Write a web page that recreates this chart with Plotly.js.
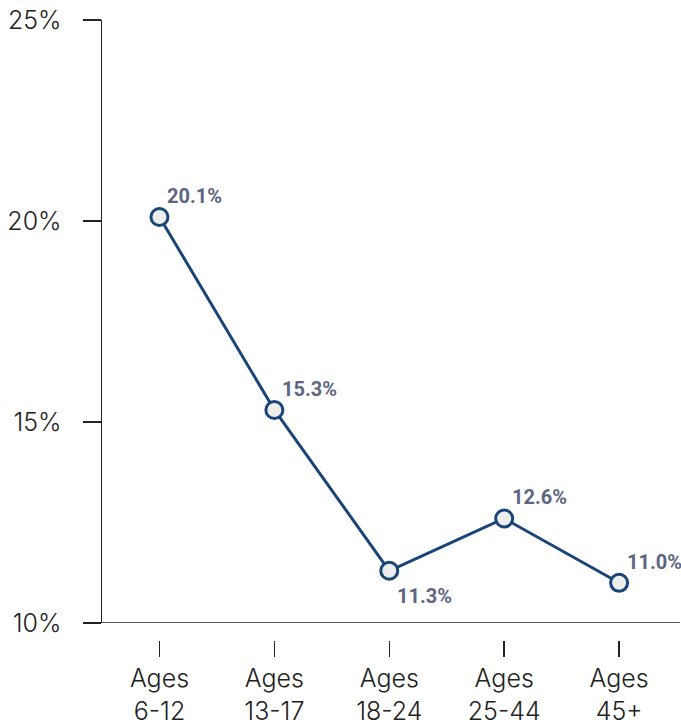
<!DOCTYPE html>
<html>
<head>
<meta charset="utf-8">
<script src="https://cdn.plot.ly/plotly-3.0.1.min.js"></script>
<style>html,body{margin:0;padding:0;background:#fff;}#chart{width:681px;height:724px;}</style>
</head>
<body>
<div id="chart"></div>
<script>
const categories = ["Ages<br>6-12", "Ages<br>13-17", "Ages<br>18-24", "Ages<br>25-44", "Ages<br>45+"];
const values = [20.1, 15.3, 11.3, 12.6, 11.0];
const labels = ["20.1%", "15.3%", "11.3%", "12.6%", "11.0%"];
const labelBelow = [false, false, true, false, false];
const yTicks = [10, 15, 20, 25];
const yTickLabels = ["10%", "15%", "20%", "25%"];

const idx = categories.map((_, i) => i);

const trace = {
  x: idx,
  y: values,
  type: "scatter",
  mode: "lines+markers",
  line: {color: "#1a4677", width: 3},
  marker: {size: 17, color: "#eeeeee", line: {color: "#1a4677", width: 3}},
  cliponaxis: false,
  hoverinfo: "skip"
};

const annotations = values.map((v, i) => ({
  x: idx[i], y: v, xref: "x", yref: "y",
  text: labels[i],
  showarrow: false,
  xanchor: "left",
  yanchor: labelBelow[i] ? "top" : "bottom",
  xshift: 6,
  yshift: labelBelow[i] ? -11 : 7,
  font: {family: "Roboto, sans-serif", size: 20, color: "#5d6680", weight: 700}
}));

const axisFont = {family: "Inter, Lato, sans-serif", size: 25, color: "#222", weight: 300};

const layout = {
  width: 681,
  height: 724,
  margin: {l: 102, r: 1, t: 20, b: 84},
  paper_bgcolor: "#fff",
  plot_bgcolor: "#fff",
  showlegend: false,
  font: {family: "Inter, Lato, sans-serif", color: "#222"},
  xaxis: {
    range: [-0.5, 4.53],
    tickvals: idx,
    ticktext: categories,
    ticks: "outside",
    ticklen: 16,
    tickwidth: 1.5,
    tickcolor: "#222",
    showline: false,
    showgrid: false,
    zeroline: false,
    anchor: "free",
    position: 0,
    tickfont: axisFont,
    fixedrange: true
  },
  yaxis: {
    domain: [0.0274, 1],
    range: [10, 25],
    tickvals: yTicks,
    ticktext: yTickLabels,
    ticks: "outside",
    ticklen: 18,
    tickwidth: 1.5,
    tickcolor: "#222",
    ticklabelstandoff: 16,
    showline: true,
    linecolor: "#222",
    linewidth: 1.5,
    showgrid: false,
    zeroline: false,
    tickfont: axisFont,
    fixedrange: true
  },
  annotations: annotations,
  shapes: [{
    type: "line",
    xref: "paper", yref: "y",
    x0: 0, x1: 1, y0: 10, y1: 10,
    line: {color: "#222", width: 1.5}
  }]
};

Plotly.newPlot("chart", [trace], layout, {displayModeBar: false, staticPlot: true});
</script>
</body>
</html>
